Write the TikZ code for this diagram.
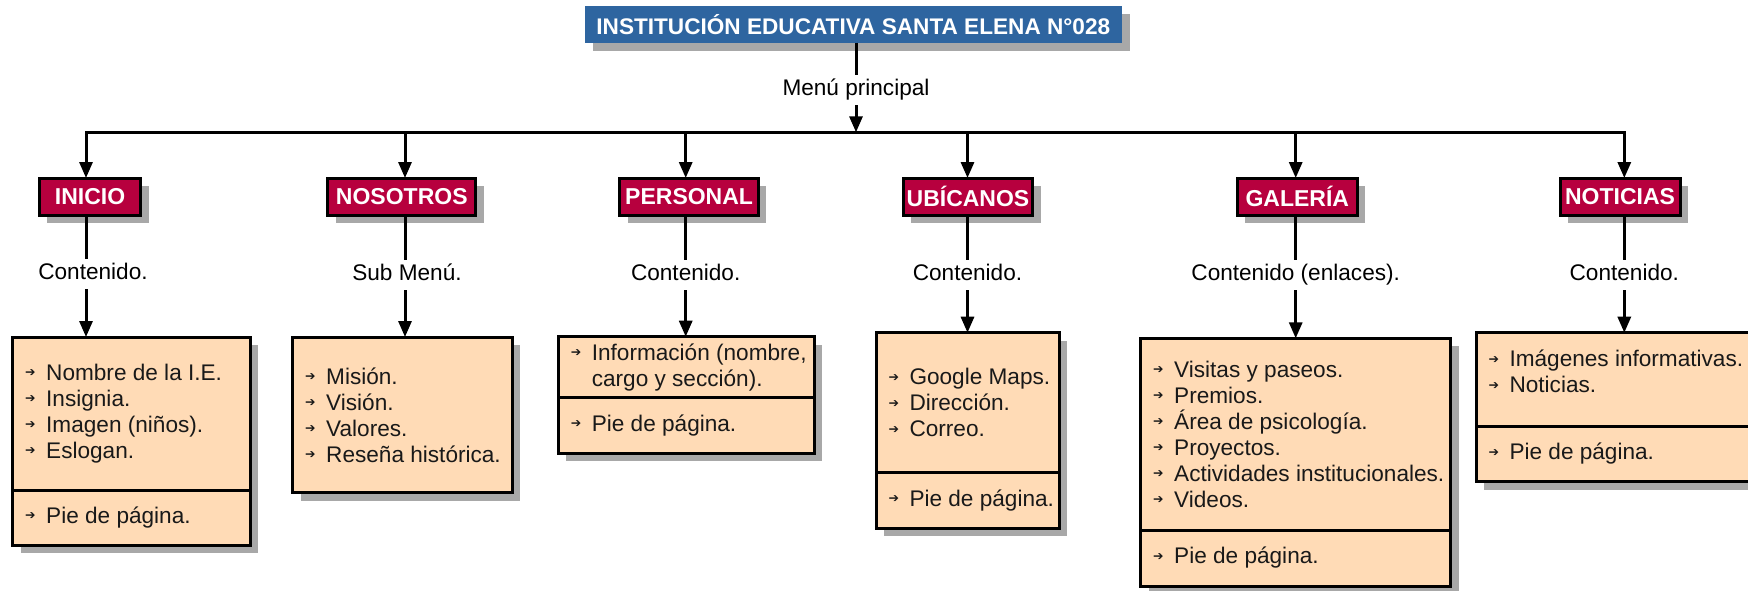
\documentclass[tikz,border=0pt]{standalone}
\usepackage{fontspec}
\setmainfont{Liberation Sans}
\newfontfamily\dejavu{DejaVu Sans}
\usetikzlibrary{arrows.meta,shadows}
\definecolor{titleblue}{RGB}{46,101,160}
\definecolor{tabred}{RGB}{183,0,62}
\definecolor{peach}{RGB}{255,219,182}
\definecolor{shadowgray}{RGB}{168,168,168}
\newcommand\bul{\makebox[21pt][l]{\raisebox{3.5pt}{\dejavu\fontsize{12.5}{12.5}\selectfont ➔}}}
\begin{document}
\begin{tikzpicture}[x=1pt,y=-1pt,
  every node/.style={font=\fontsize{22.6}{26}\selectfont},
  conn/.style={line width=3pt},
  arr/.style={conn,-{Triangle[length=16pt,width=13pt]}},
  shad/.style={drop shadow={shadow xshift=8pt,shadow yshift=-8pt,fill=shadowgray,opacity=1}},
  titlebox/.style={shad,fill=titleblue,text=white,font=\fontsize{22.6}{26}\selectfont\bfseries,minimum width=536.7pt,minimum height=36.7pt,inner sep=0pt,outer sep=0pt},
  tabbox/.style={shad,fill=tabred,draw=black,line width=3pt,text=white,font=\fontsize{23}{26}\selectfont\bfseries,minimum height=37pt,inner sep=0pt,outer sep=0pt},
  lbl/.style={text height=17pt,text depth=7pt,inner xsep=2pt,inner ysep=3pt,outer sep=0pt},
  cbox/.style={shad,fill=peach,draw=black,line width=3pt,inner sep=0pt,outer sep=0pt,anchor=north west},
  itemtext/.style={anchor=west,align=left,inner sep=0pt,text=black!90},
]
\useasboundingbox (0,0) rectangle (1748,590);
\clip (0,0) rectangle (1748,590);
\fill[white] (0,0) rectangle (1748,590);

% title and main menu
\node[titlebox] (title) at (853.3,24.3) {INSTITUCIÓN EDUCATIVA SANTA ELENA N°028};
\node[lbl,anchor=base] (mp) at (856,95) {Menú principal};
\coordinate (b1) at (86,132.3);
\coordinate (b2) at (405,132.3);
\coordinate (b3) at (685.7,132.3);
\coordinate (b4) at (967.5,132.3);
\coordinate (b5) at (1295.7,132.3);
\coordinate (b6) at (1624.3,132.3);
\draw[conn] (title.south -| mp) -- (mp.north);
\draw[arr] (mp.south) -- (mp.south |- b1);
\draw[conn,line cap=rect] (b1) -- (b6);

% tabs
\node[tabbox,minimum width=101.4pt] (t1) at (90,196.5) {INICIO};
\node[tabbox,minimum width=147.7pt] (t2) at (401.8,196.5) {NOSOTROS};
\node[tabbox,minimum width=138.3pt] (t3) at (689.1,196.5) {PERSONAL};
\node[tabbox,minimum width=129.4pt] (t4) at (968,196.5) {UBÍCANOS};
\node[tabbox,minimum width=120pt] (t5) at (1297.3,196.5) {GALERÍA};
\node[tabbox,minimum width=120pt] (t6) at (1620,196.5) {NOTICIAS};

% labels
\node[lbl,anchor=base] (l1) at (93,279) {Contenido.};
\node[lbl,anchor=base] (l2) at (407,280) {Sub Menú.};
\node[lbl,anchor=base] (l3) at (685.7,280) {Contenido.};
\node[lbl,anchor=base] (l4) at (967.5,280) {Contenido.};
\node[lbl,anchor=base] (l5) at (1295.7,280) {Contenido (enlaces).};
\node[lbl,anchor=base] (l6) at (1624.3,280) {Contenido.};

% content boxes
\node[cbox,minimum width=237.3pt,minimum height=153pt] (c1) at (12.7,337) {};
\node[cbox,minimum width=237.3pt,minimum height=55pt] (p1) at (12.7,490) {};
\node[cbox,minimum width=219.6pt,minimum height=155.7pt] (c2) at (292.7,337) {};
\node[cbox,minimum width=255.7pt,minimum height=61pt] (c3) at (558.3,336.7) {};
\node[cbox,minimum width=255.7pt,minimum height=55.6pt] (p3) at (558.3,397.7) {};
\node[cbox,minimum width=183.3pt,minimum height=140pt] (c4) at (876,332.7) {};
\node[cbox,minimum width=183.3pt,minimum height=55.6pt] (p4) at (876,472.7) {};
\node[cbox,minimum width=310pt,minimum height=191.7pt] (c5) at (1140.7,338.3) {};
\node[cbox,minimum width=310pt,minimum height=56pt] (p5) at (1140.7,530) {};
\node[cbox,minimum width=284pt,minimum height=93.3pt] (c6) at (1476,332.7) {};
\node[cbox,minimum width=284pt,minimum height=55.7pt] (p6) at (1476,426) {};

% content texts
\node[itemtext] (c1t) at ([xshift=12.3pt]c1.west) {\bul Nombre de la I.E.\\\bul Insignia.\\\bul Imagen (niños).\\\bul Eslogan.};
\node[itemtext] (p1t) at ([xshift=12.3pt]p1.west) {\bul Pie de página.};
\node[itemtext] (c2t) at ([xshift=12.3pt]c2.west) {\bul Misión.\\\bul Visión.\\\bul Valores.\\\bul Reseña histórica.};
\node[itemtext] (c3t) at ([xshift=12.3pt]c3.west) {\bul Información (nombre,\\\hphantom{\bul}cargo y sección).};
\node[itemtext] (p3t) at ([xshift=12.3pt]p3.west) {\bul Pie de página.};
\node[itemtext] (c4t) at ([xshift=12.3pt]c4.west) {\bul Google Maps.\\\bul Dirección.\\\bul Correo.};
\node[itemtext] (p4t) at ([xshift=12.3pt]p4.west) {\bul Pie de página.};
\node[itemtext] (c5t) at ([xshift=12.3pt]c5.west) {\bul Visitas y paseos.\\\bul Premios.\\\bul Área de psicología.\\\bul Proyectos.\\\bul Actividades institucionales.\\\bul Videos.};
\node[itemtext] (p5t) at ([xshift=12.3pt]p5.west) {\bul Pie de página.};
\node[itemtext] (c6t) at ([xshift=12.3pt,yshift=8pt]c6.west) {\bul Imágenes informativas.\\\bul Noticias.};
\node[itemtext] (p6t) at ([xshift=12.3pt]p6.west) {\bul Pie de página.};

% connectors
\foreach \i in {1,...,6}{
  \draw[arr] (b\i) -- (b\i |- t\i.north);
  \draw[conn] (t\i.south -| b\i) -- (l\i.north -| b\i);
  \draw[arr] (l\i.south -| b\i) -- (c\i.north -| b\i);
}
\end{tikzpicture}
\end{document}
